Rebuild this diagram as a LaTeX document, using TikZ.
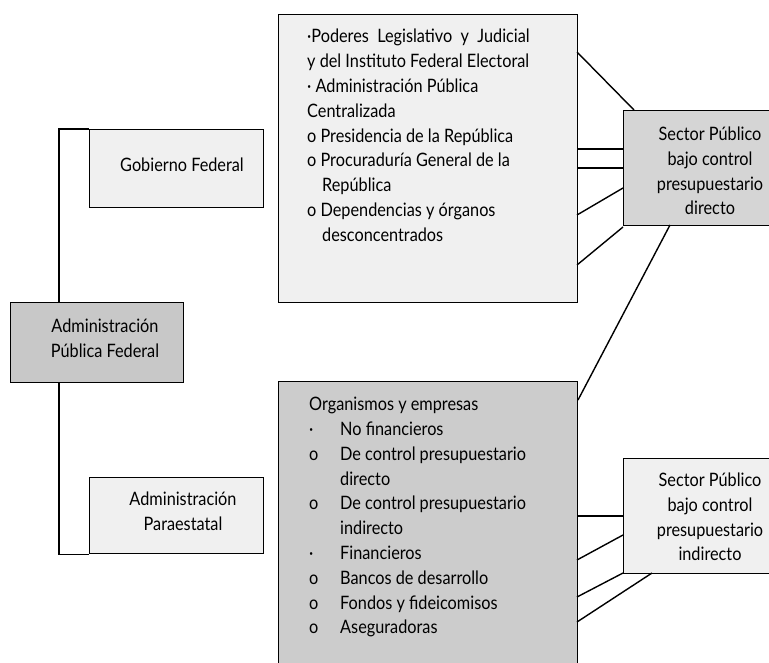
\documentclass[tikz,border=0pt]{standalone}
\usepackage{fontspec}
\setmainfont{Lato}[FakeStretch=0.88]
\definecolor{boxlight}{RGB}{240,240,240}
\definecolor{boxdark}{RGB}{200,200,200}
\definecolor{boxmid}{RGB}{204,204,204}
\definecolor{boxsec}{RGB}{213,213,213}
\begin{document}
\begin{tikzpicture}[x=1pt,y=-1pt,
  box/.style={draw=black,line width=1.1pt,rectangle,inner sep=0pt,anchor=north west},
  txt/.style={font=\fontsize{18.5}{24.8}\selectfont,inner sep=0pt},
  link/.style={line width=1.4pt},
  tree/.style={line width=1.1pt}]
\useasboundingbox (0,0) rectangle (769,662);
% boxes
\node[box,fill=boxlight,minimum width=174pt,minimum height=78pt] (gob) at (89,129) {};
\node[box,fill=boxdark,minimum width=173pt,minimum height=80pt] (apf) at (10,302) {};
\node[box,fill=boxlight,minimum width=174pt,minimum height=76pt] (para) at (89,477) {};
\node[box,fill=boxlight,minimum width=299pt,minimum height=288pt] (top) at (278,14) {};
\node[box,fill=boxmid,minimum width=299pt,minimum height=300pt] (bot) at (278,381) {};
\node[box,fill=boxsec,minimum width=150pt,minimum height=115pt] (secd) at (623,110) {};
\node[box,fill=boxlight,minimum width=150pt,minimum height=115pt] (seci) at (623,458) {};
% texts
\node[txt] (gobt) at (182,165) {Gobierno Federal};
\node[txt,align=center] (apft) at (105,338) {Administración\\Pública Federal};
\node[txt,align=center] (parat) at (183,511) {Administración\\Paraestatal};
\node[txt,align=center] (secdt) at (710,171) {Sector Público\\bajo control\\presupuestario\\directo};
\node[txt,align=center] (secit) at (710,517) {Sector Público\\bajo control\\presupuestario\\indirecto};
\node[txt,align=left,anchor=north west] (topt) at (307,29) {%
·Poderes\ \ Legislativo\ \ y\ \ Judicial\\
y del Instituto Federal Electoral\\
· Administración Pública\\
Centralizada\\
o Presidencia de la República\\
o Procuraduría General de la\\
\hspace*{15pt}República\\
o Dependencias y órganos\\
\hspace*{15pt}desconcentrados};
\node[txt,align=left,anchor=north west] (bott) at (309,397) {%
Organismos y empresas\\
\makebox[31pt][l]{·}No financieros\\
\makebox[31pt][l]{o}De control presupuestario\\
\hspace*{31pt}directo\\
\makebox[31pt][l]{o}De control presupuestario\\
\hspace*{31pt}indirecto\\
\makebox[31pt][l]{·}Financieros\\
\makebox[31pt][l]{o}Bancos de desarrollo\\
\makebox[31pt][l]{o}Fondos y fideicomisos\\
\makebox[31pt][l]{o}Aseguradoras};
% tree connectors
\coordinate (trunk) at (59,0);
\draw[tree] (gob.north west) -- (gob.north west -| trunk) -- (apf.north -| trunk);
\draw[tree] (apf.south -| trunk) -- (para.south west -| trunk) -- (para.south west);
% link end points
\coordinate (a1) at (577,52);  \coordinate (b1) at (634,110);
\coordinate (a2) at (577,149); \coordinate (b2) at (623,149);
\coordinate (a3) at (577,168); \coordinate (b3) at (623,168);
\coordinate (a4) at (577,215); \coordinate (b4) at (623,188);
\coordinate (a5) at (577,265); \coordinate (b5) at (623,227);
\coordinate (a6) at (670,225); \coordinate (b6) at (578,400);
\coordinate (a7) at (577,516); \coordinate (b7) at (623,516);
\coordinate (a8) at (577,560); \coordinate (b8) at (623,535);
\coordinate (a9) at (577,597); \coordinate (b9) at (623,573);
\coordinate (a10) at (577,622); \coordinate (b10) at (652,573);
\foreach \i in {1,...,10} \draw[link] (a\i) -- (b\i);
\end{tikzpicture}
\end{document}
